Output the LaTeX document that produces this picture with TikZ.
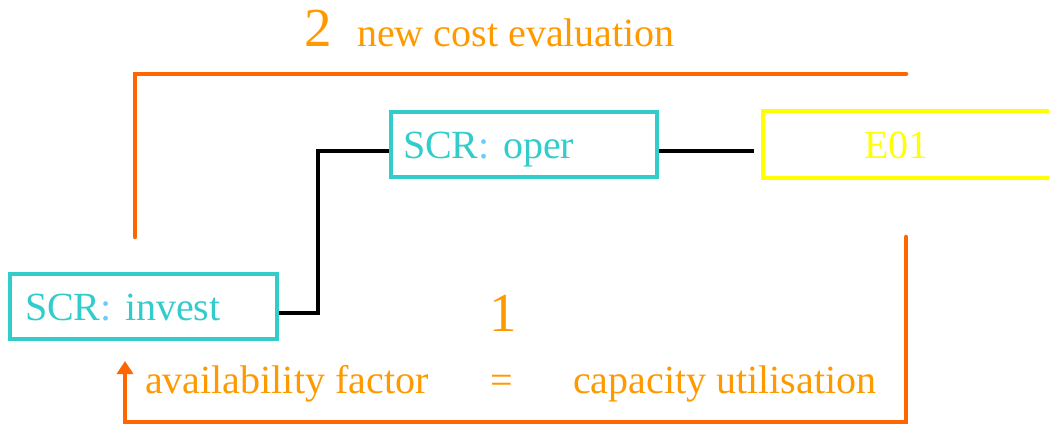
\documentclass[tikz,border=0pt]{standalone}
\usepackage{fontspec}
\setmainfont{Liberation Serif}
\usetikzlibrary{arrows.meta}
\definecolor{teal1}{HTML}{33CCCC}
\definecolor{colon1}{HTML}{66CCFF}
\definecolor{otext}{HTML}{FF9900}
\definecolor{oline}{HTML}{FF6600}
\definecolor{yel}{HTML}{FFFF00}
\begin{document}
\begin{tikzpicture}[x=1pt,y=-1pt,
  boxn/.style={draw, line width=4pt, minimum height=65pt, text height=27pt, text depth=0pt, align=left, font=\fontsize{40}{48}\selectfont},
  conn/.style={draw=black, line width=4pt},
  oconn/.style={draw=oline, line width=4.5pt, line cap=round},
  lbl/.style={inner sep=0pt, anchor=base west, text=otext, font=\fontsize{40}{48}\selectfont},
  big/.style={inner sep=0pt, anchor=base, text=otext, font=\fontsize{55}{60}\selectfont}]
\useasboundingbox (0,0) rectangle (1049,425);
\node[boxn, draw=teal1, text=teal1, inner xsep=15pt, text width=237pt] (inv) at (143.5,306.5) {SCR{\color{colon1}:} invest};
\node[boxn, draw=teal1, text=teal1, inner xsep=12pt, text width=242pt] (oper) at (524,144.5) {SCR{\color{colon1}:} oper};
\node[boxn, draw=yel, text=yel, inner xsep=101pt, text width=200pt, minimum height=66pt, anchor=west] (e01) at (761,144.5) {E01};
\draw[conn] ([yshift=-6pt]inv.east) -- ++(39,0) |- ([yshift=-6pt]oper.west);
\draw[conn] ([yshift=-6pt]oper.east) -- ([xshift=-7pt,yshift=-6pt]e01.west);
\coordinate (t1) at (135,237);
\coordinate (t2) at (906,74);
\coordinate (b1) at (906,237);
\coordinate (b2) at (906,422);
\coordinate (b3) at (125,422);
\coordinate (b4) at (125,361);
\draw[oconn] (t1) |- (t2);
\draw[oconn, -{Triangle[width=16pt,length=13pt]}] (b1) -- (b2) -- (b3) -- (b4);
\node[big] (n2) at (318,47) {2};
\node[lbl] (ncost) at (357,47) {new cost evaluation};
\node[big] (n1) at (503,331) {1};
\node[lbl] (avail) at (145,393) {availability factor};
\node[inner sep=0pt, anchor=base, text=otext, font=\fontsize{40}{48}\selectfont] (eq) at (502,393) {=};
\node[lbl] (capu) at (573,393) {capacity utilisation};
\end{tikzpicture}
\end{document}
